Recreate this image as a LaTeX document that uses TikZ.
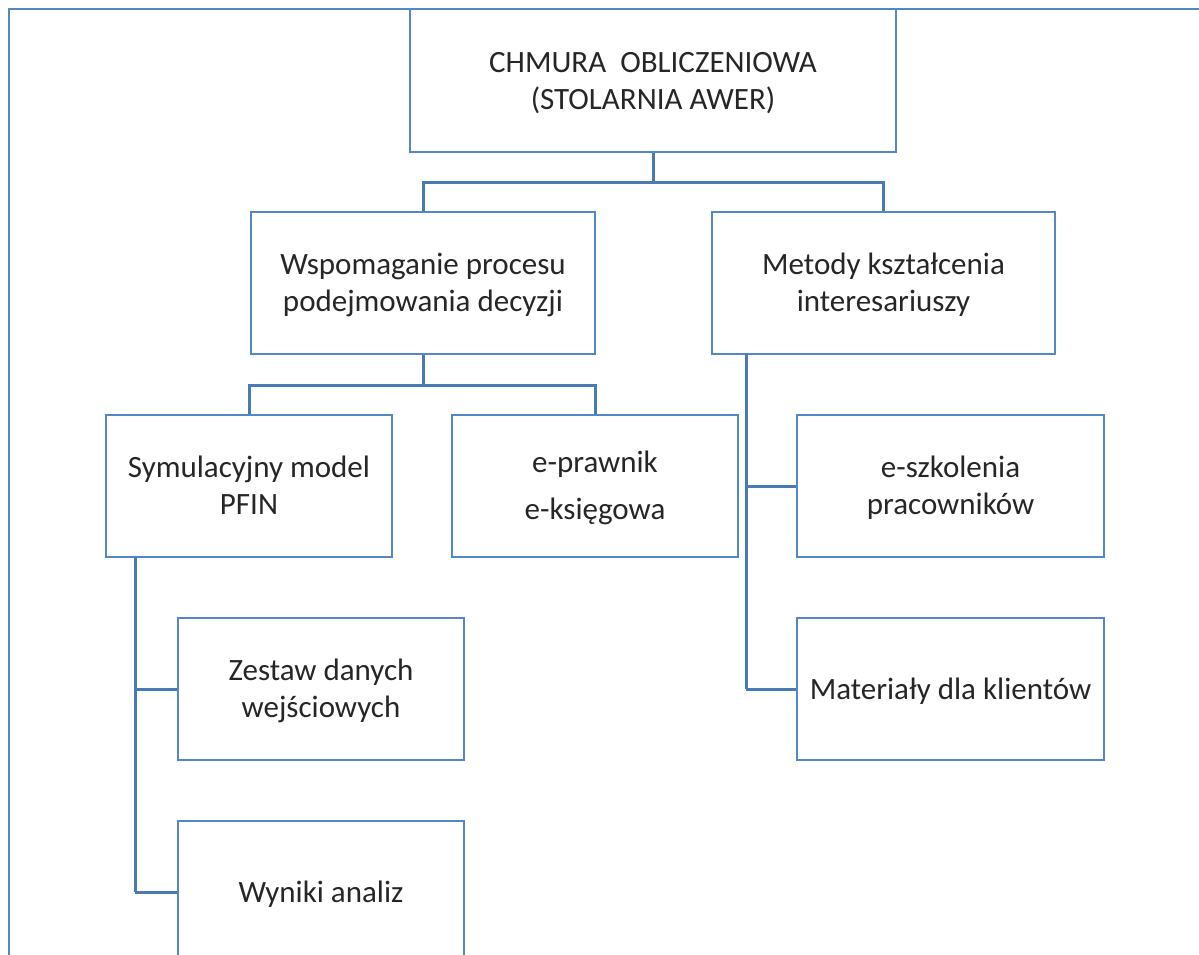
\documentclass[tikz,border=0pt]{standalone}
\usepackage{fontspec}
\setmainfont{Carlito}
\definecolor{boxblue}{RGB}{84,136,196}
\definecolor{linkblue}{RGB}{72,122,182}
\newcommand{\bxtext}[1]{\raisebox{-3pt}[\height][\depth]{\begin{tabular}{@{}c@{}}#1\end{tabular}}}
\begin{document}
\begin{tikzpicture}[x=1pt,y=-1pt,
  box/.style={draw=boxblue,line width=2.9pt,fill=white,inner sep=0pt,
    font=\fontsize{31}{37}\selectfont,text=black!85},
  link/.style={draw=linkblue,line width=3pt}]
\useasboundingbox (0,0) rectangle (1199,955);
\clip (0,0) rectangle (1199,955);
\fill[white] (0,0) rectangle (1199,955);
\coordinate (fa) at (9,955);
\coordinate (fb) at (9,9);
\coordinate (fc) at (1199,9);
\draw[draw=boxblue,line width=2.6pt] (fa) -- (fb) -- (fc);
% nodes
\node[box,minimum width=486pt,minimum height=143pt] (root) at (653,80.5)
  {\bxtext{CHMURA\ \ OBLICZENIOWA\\(STOLARNIA AWER)}};
\node[box,minimum width=344pt,minimum height=142pt] (a) at (423,283)
  {\bxtext{Wspomaganie procesu\\podejmowania decyzji}};
\node[box,minimum width=343pt,minimum height=142pt] (b) at (883.5,283)
  {\bxtext{Metody kształcenia\\interesariuszy}};
\node[box,minimum width=286pt,minimum height=142pt] (c) at (249,486)
  {\bxtext{Symulacyjny model\\PFIN}};
\node[box,minimum width=286pt,minimum height=142pt] (d) at (595,486)
  {\bxtext{e-prawnik\\[10pt]e-księgowa}};
\node[box,minimum width=307pt,minimum height=142pt] (e) at (950.5,486)
  {\bxtext{e-szkolenia\\pracowników}};
\node[box,minimum width=307pt,minimum height=142pt] (f) at (950.5,689)
  {\bxtext{Materiały dla klientów}};
\node[box,minimum width=286pt,minimum height=142pt] (g) at (321,689)
  {\bxtext{Zestaw danych\\wejściowych}};
\node[box,minimum width=286pt,minimum height=142pt] (h) at (321,892)
  {\bxtext{Wyniki analiz}};
% connectors
\coordinate (r1) at (653,182);
\draw[link] (root.south) -- (r1);
\draw[link] (r1) -| (a.north);
\draw[link] (r1) -| (b.north);
\coordinate (a1) at (423,385);
\draw[link] (a.south) -- (a1);
\draw[link] (a1) -| (c.north);
\draw[link] (a1) -| (d.north);
\coordinate (b0) at (746,354);
\coordinate (b1) at (746,689);
\draw[link] (b0) -- (b1);
\draw[link] (b0 |- e.west) -- (e.west);
\draw[link] (b1) -- (f.west);
\coordinate (c0) at (135,557);
\coordinate (c1) at (135,892);
\draw[link] (c0) -- (c1);
\draw[link] (c0 |- g.west) -- (g.west);
\draw[link] (c1) -- (h.west);
\end{tikzpicture}
\end{document}
